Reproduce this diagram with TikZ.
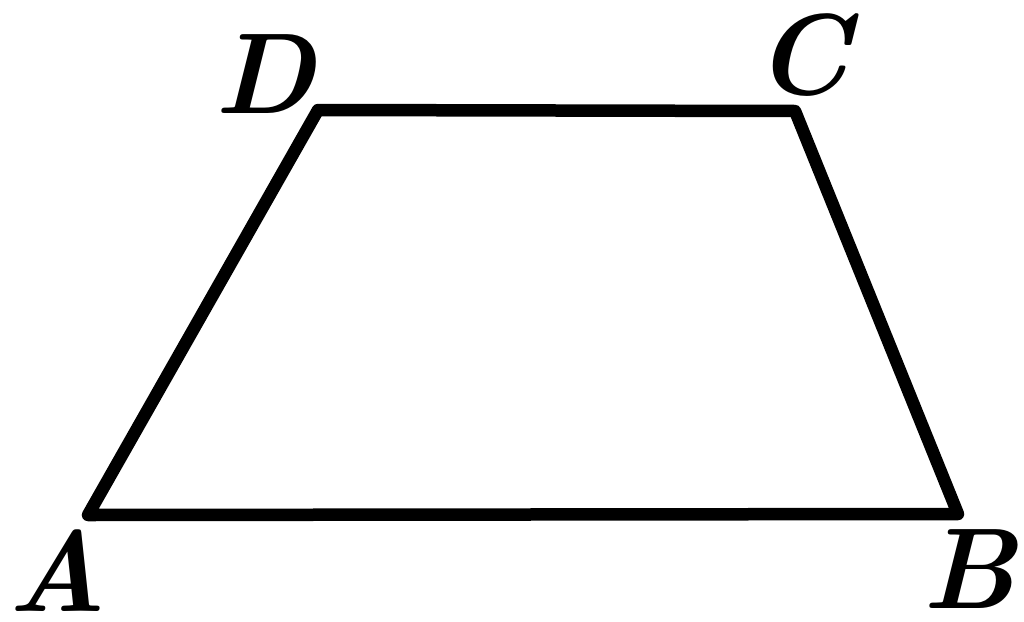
\documentclass[tikz,border=0pt]{standalone}
\begin{document}
\begin{tikzpicture}[x=1pt,y=-1pt,
  edge/.style={line width=12.5pt,line join=round,line cap=round},
  lbl/.style={inner sep=0pt,font=\fontsize{115}{115}\selectfont\bfseries\itshape}]
\useasboundingbox (0,0) rectangle (1024,621);
\coordinate (A) at (88,515);
\coordinate (B) at (958,514);
\coordinate (C) at (795,111);
\coordinate (D) at (318,110);
\draw[edge] (A) -- (B) -- (C) -- (D) -- cycle;
\node[lbl] (la) at (57,571) {A};
\node[lbl] (lb) at (969,569) {B};
\node[lbl] (lc) at (802,55) {C};
\node[lbl] (ld) at (265,74) {D};
\end{tikzpicture}
\end{document}
